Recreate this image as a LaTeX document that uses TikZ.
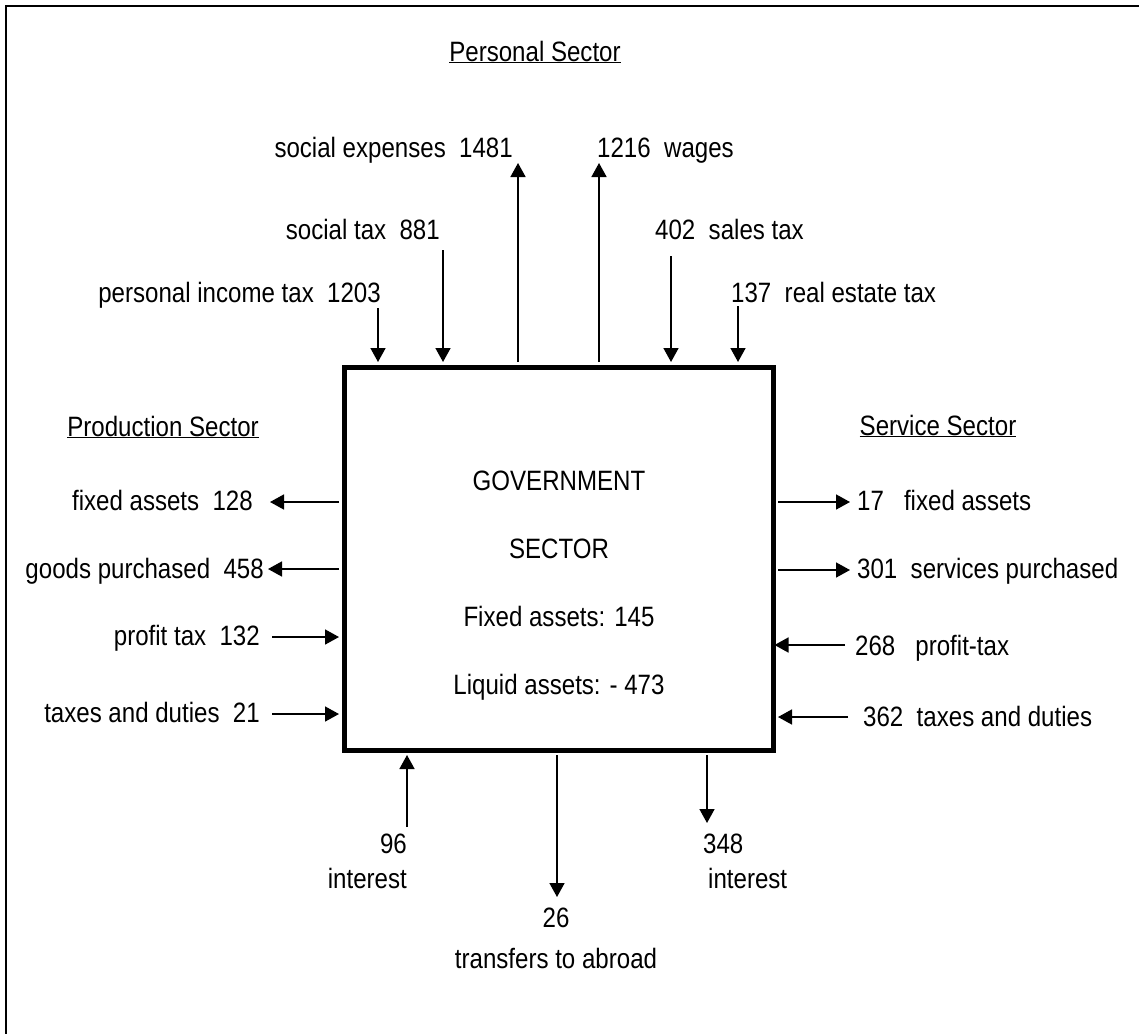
\documentclass[tikz,border=0pt]{standalone}
\usepackage{fontspec}
\setmainfont[FakeStretch=0.86]{Liberation Sans}
\usetikzlibrary{arrows.meta}
\begin{document}
\begin{tikzpicture}[x=1pt,y=-1pt,
  lbl/.style={inner sep=0pt, font=\fontsize{28}{32}\selectfont},
  flow/.style={line width=1.6pt, -{Triangle[length=14pt,width=15pt]}},
  inflow/.style={flow, shorten >=2.5pt},
  outflow/.style={flow, shorten <=2.5pt},
  ]
\useasboundingbox (0,0) rectangle (1139,1033);
\draw[line width=2.5pt] (6,1040) -- (6,6) -- (1145,6);
\node[draw, line width=5pt, minimum width=429pt, minimum height=383pt, inner sep=0pt] (gov) at (558.5,558.5) {};
% box text
\node[lbl, anchor=base] (t1) at (559,490) {GOVERNMENT};
\node[lbl, anchor=base] (t2) at (559,558) {SECTOR};
\node[lbl, anchor=base] (t3) at (559,626) {Fixed assets: 145};
\node[lbl, anchor=base] (t4) at (559,694) {Liquid assets: - 473};
% top
\node[lbl, anchor=base] (ps) at (535,61) {\underline{Personal Sector}};
\node[lbl, anchor=base east] (se) at (513,157) {social expenses\ \ 1481};
\node[lbl, anchor=base west] (wg) at (597,157) {1216\ \ wages};
\node[lbl, anchor=base east] (st) at (440,239) {social tax\ \ 881};
\node[lbl, anchor=base east] (pit) at (381,302) {personal income tax\ \ 1203};
\node[lbl, anchor=base west] (sal) at (655,239) {402\ \ sales tax};
\node[lbl, anchor=base west] (re) at (731,302) {137\ \ real estate tax};
\coordinate (a1) at (378,308);
\coordinate (a2) at (443,250);
\coordinate (a3) at (518,163);
\coordinate (a4) at (599,163);
\coordinate (a5) at (671,256);
\coordinate (a6) at (738,306);
\draw[inflow] (a1) -- (a1 |- gov.north);
\draw[inflow] (a2) -- (a2 |- gov.north);
\draw[outflow] (a3 |- gov.north) -- (a3);
\draw[outflow] (a4 |- gov.north) -- (a4);
\draw[inflow] (a5) -- (a5 |- gov.north);
\draw[inflow] (a6) -- (a6 |- gov.north);
% left
\node[lbl, anchor=base] (pr) at (163,436) {\underline{Production Sector}};
\node[lbl, anchor=base east] (l1t) at (253,510) {fixed assets\ \ 128};
\node[lbl, anchor=base east] (l2t) at (264,578) {goods purchased\ \ 458};
\node[lbl, anchor=base east] (l3t) at (260,645) {profit tax\ \ 132};
\node[lbl, anchor=base east] (l4t) at (260,722) {taxes and duties\ \ 21};
\coordinate (l1) at (270,502);
\coordinate (l2) at (268,569);
\coordinate (l3) at (272,637);
\coordinate (l4) at (272,714);
\draw[outflow] (l1 -| gov.west) -- (l1);
\draw[outflow] (l2 -| gov.west) -- (l2);
\draw[inflow] (l3) -- (l3 -| gov.west);
\draw[inflow] (l4) -- (l4 -| gov.west);
% right
\node[lbl, anchor=base] (sv) at (938,435) {\underline{Service Sector}};
\node[lbl, anchor=base west] (r1t) at (857,510) {17\ \ \ fixed assets};
\node[lbl, anchor=base west] (r2t) at (857,578) {301\ \ services purchased};
\node[lbl, anchor=base west] (r3t) at (855,655) {268\ \ \ profit-tax};
\node[lbl, anchor=base west] (r4t) at (863,726) {362\ \ taxes and duties};
\coordinate (r1) at (850,502);
\coordinate (r2) at (850,570);
\coordinate (r3) at (845,645);
\coordinate (r4) at (848,717);
\draw[outflow] (r1 -| gov.east) -- (r1);
\draw[outflow] (r2 -| gov.east) -- (r2);
\draw[flow, shorten >=-1pt] (r3) -- (r3 -| gov.east);
\draw[inflow] (r4) -- (r4 -| gov.east);
% bottom
\coordinate (b1) at (407,827);
\coordinate (b2) at (557,897);
\coordinate (b3) at (707,823);
\draw[inflow] (b1) -- (b1 |- gov.south);
\draw[outflow] (b2 |- gov.south) -- (b2);
\draw[outflow] (b3 |- gov.south) -- (b3);
\node[lbl, anchor=base east] (b1n) at (407,853) {96};
\node[lbl, anchor=base east] (b1t) at (407,888) {interest};
\node[lbl, anchor=base] (b2n) at (556,927) {26};
\node[lbl, anchor=base] (b2t) at (556,968) {transfers to abroad};
\node[lbl, anchor=base west] (b3n) at (703,853) {348};
\node[lbl, anchor=base west] (b3t) at (708,888) {interest};
\end{tikzpicture}
\end{document}
